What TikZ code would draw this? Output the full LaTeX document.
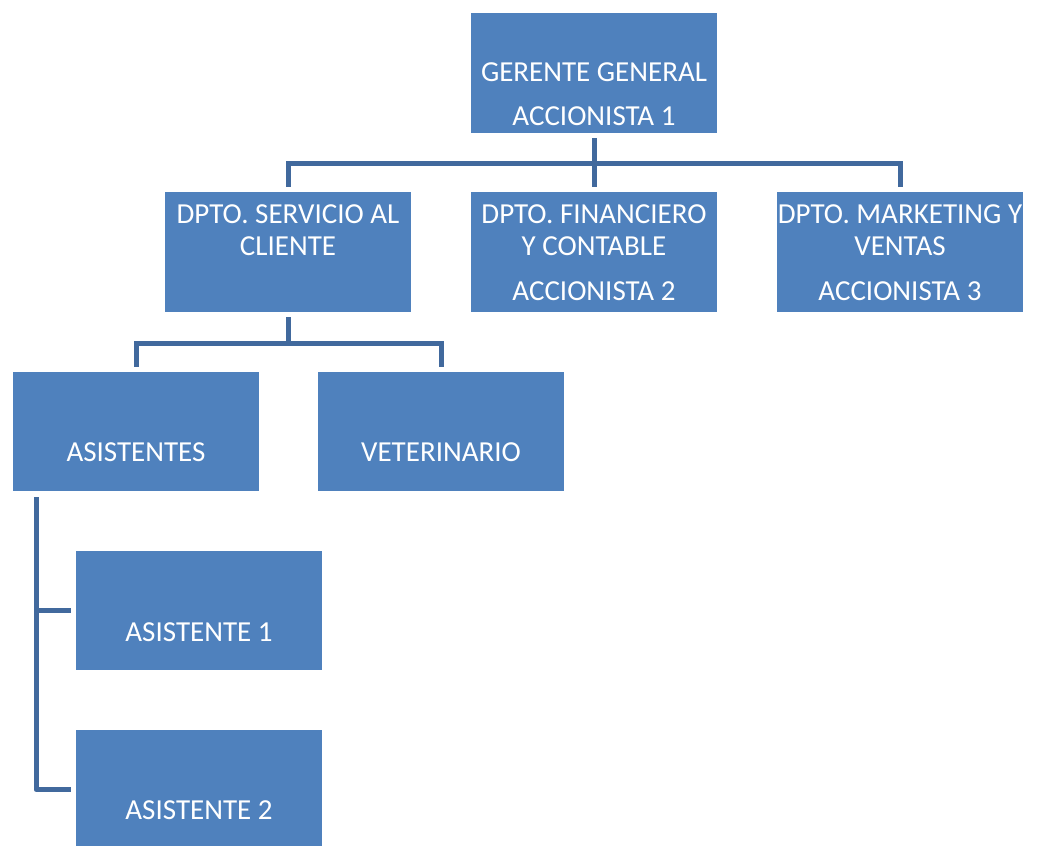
\documentclass[tikz,border=0pt]{standalone}
\usepackage{fontspec}
\setmainfont{Carlito}
\definecolor{boxblue}{HTML}{4F81BD}
\definecolor{lineblue}{HTML}{41699D}
\tikzset{
  box/.style={rectangle, fill=boxblue, draw=none, inner sep=0pt, anchor=north west, minimum width=246pt, minimum height=120pt},
  txt/.style={anchor=base, text=white, inner sep=0pt, font=\fontsize{29}{34}\selectfont},
  conn/.style={draw=lineblue, line width=5pt, shorten <=5pt, shorten >=5pt}
}
\begin{document}
\begin{tikzpicture}[x=1pt,y=-1pt]
\useasboundingbox (0,0) rectangle (1037,846);
% boxes
\node[box] (g) at (471,13) {};
\node[box] (s) at (165,192) {};
\node[box] (f) at (471,192) {};
\node[box] (m) at (777,192) {};
\node[box, minimum height=119pt] (a) at (13,372) {};
\node[box, minimum height=119pt] (v) at (318,372) {};
\node[box, minimum height=119pt] (a1) at (76,551) {};
\node[box, minimum height=119pt] (a2) at (76,730) {};
% texts
\node[txt] (g1) at (594,81) {GERENTE GENERAL};
\node[txt] (g2) at (594,125) {ACCIONISTA 1};
\node[txt] (s1) at (288,223) {DPTO. SERVICIO AL};
\node[txt] (s2) at (288,255) {CLIENTE};
\node[txt] (f1) at (594,223) {DPTO. FINANCIERO};
\node[txt] (f2) at (594,255) {Y CONTABLE};
\node[txt] (f3) at (594,300) {ACCIONISTA 2};
\node[txt] (m1) at (900,223) {DPTO. MARKETING Y};
\node[txt] (m2) at (900,255) {VENTAS};
\node[txt] (m3) at (900,300) {ACCIONISTA 3};
\node[txt] (at) at (136,461) {ASISTENTES};
\node[txt] (vt) at (441,461) {VETERINARIO};
\node[txt] (a1t) at (199,641) {ASISTENTE 1};
\node[txt] (a2t) at (199,819) {ASISTENTE 2};
% connectors
\draw[conn] (g.south) -- ++(0,30) -| (s.north);
\draw[conn] (g.south) -- ++(0,30) -| (m.north);
\draw[conn] (g.south) -- (f.north);
\draw[conn] (s.south) -- ++(0,31) -| (a.north);
\draw[conn] (s.south) -- ++(0,31) -| (v.north);
\draw[conn, shorten <=0pt] ([xshift=23pt,yshift=-6pt]a.south west) |- (a1.west);
\draw[conn, shorten <=0pt, line join=round] ([xshift=23pt,yshift=-6pt]a.south west) |- (a2.west);
\end{tikzpicture}
\end{document}
